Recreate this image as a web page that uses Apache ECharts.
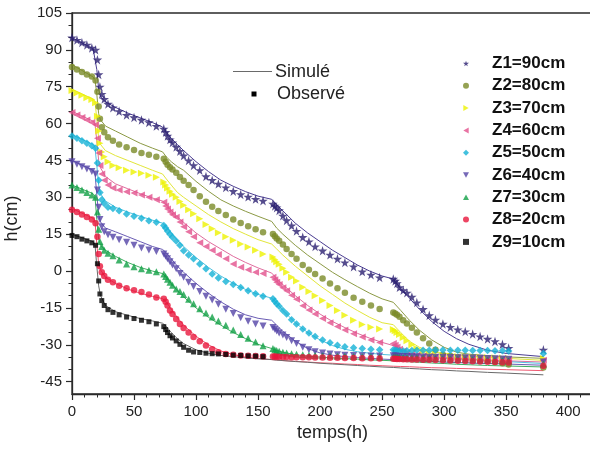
<!DOCTYPE html>
<html><head><meta charset="utf-8">
<script src="https://cdn.jsdelivr.net/npm/echarts@6/dist/echarts.min.js"></script>
<style>html,body{margin:0;padding:0;background:#fff}#c{width:590px;height:458px}</style>
</head><body><div id="c"></div>
<script>
// ---------- data ----------
const seriesNames = ['Z1=90cm','Z2=80cm','Z3=70cm','Z4=60cm','Z5=50cm','Z6=40cm','Z7=30cm','Z8=20cm','Z9=10cm'];
const yTickValues = [-45,-30,-15,0,15,30,45,60,75,90,105];
const xTickValues = [0,50,100,150,200,250,300,350,400];

const obsTime = [0,4,8,12,16,
  19,20.5,21.5,22.5,24,26,29,
  33,38,44,50,56,62,68,
  74,75.5,77,79,81,84,87,90,94,98,103,108,113,118,124,130,136,142,148,154,
  162,163.5,165,167,170,173,177,181,186,191,196,202,208,214,220,227,234,241,248,
  259,260.5,262,264,267,270,274,278,283,288,293,299,305,311,317,323,329,335,341,347,352,
  380];

const z1Obs = [95,94,93,92,90.8, 90,86,80,75,72,70,68, 66.5,65,63.5,62.5,61.5,60.5,59,
  57.9,56.5,55,53.5,52.3,50.5,48.8,47,45,43,41,38.5,37,35.5,34,32.5,31.2,30.2,29.3,28.6,
  27.4,26.5,25.8,24.7,22.5,20.6,18.5,16.3,13.8,12,10,8.3,6.6,5,3.5,1.8,-0.2,-1.5,-2.6,
  -3.2,-4,-5,-6.6,-7.8,-8.8,-10.5,-12.8,-15.5,-18,-19.8,-21.5,-22.8,-23.8,-24.6,-25.6,-26.6,-27.6,-28.6,-29.8,-31.3,
  -32];
const z2Obs = [83,82,81,80,79.2, 77.5,73,67,62,58.5,56.5,54.5, 53,51.5,50.4,49.3,48,47.3,46.5,
  45.7,44.5,43.3,42.2,41.3,40,38.3,36.8,35,33,30.5,28.2,26.2,24.4,22.8,21,19.6,18.2,17,15.8,
  15.1,14.2,13.3,12.3,10.8,9,7,5,2.5,0.5,-1.2,-3,-5,-7,-8.8,-10.8,-12.5,-14,-15.4,
  -16.8,-17.3,-17.8,-18.6,-20,-21.3,-23,-25,-27.3,-29.5,-32,-34,-34.5,-35,-35.3,-35.6,-36,-36.5,-37,-37.5,-38,
  -39.2];
const z3Obs = [73.5,72.5,71.5,70.5,69.8, 68.5,63,57,52,48.5,46.5,44.5, 43,42,41,40.3,39.8,39,38.2,
  36.2,35,33.8,32.5,31.3,30,28.3,26.8,25,23.3,21.3,19,17.2,15.6,14,12.5,11,9.8,8.5,7,
  5.7,4.7,3.8,2.8,1.2,-0.5,-2.5,-4,-6.6,-8.3,-10,-12,-14,-16,-18,-20,-21.7,-22.8,-23.6,
  -23.8,-24.3,-25,-25.8,-27,-28.3,-30,-31.5,-32.8,-33.5,-34,-34.3,-34.5,-34.7,-34.8,-35,-35,-35.2,-35.3,-35.4,-35.5,
  -35.6];
const z4Obs = [64.5,63.5,62.5,61.5,60.5, 59.5,54,48,43,39.5,37,35, 33.8,33,32.3,31.8,31,30,29,
  28,26.5,25.3,24,22.9,21.9,20,18,16,14,11.5,10,8.5,6.8,5,2.9,1.6,0.5,-0.5,-1,
  -2.5,-3.5,-4.5,-5.5,-6.8,-8,-9.8,-11.5,-14.1,-15.8,-17.5,-19.3,-21,-22.5,-24,-25.5,-26.8,-28,-29,
  -29.5,-30.2,-31,-31.8,-32.5,-33.2,-33.8,-34.2,-34.5,-34.7,-34.9,-35,-35.2,-35.3,-35.4,-35.5,-35.6,-35.7,-35.8,-35.9,-36,
  -36.3];
const z5Obs = [55,54,53,52,51, 50,44,37,32,29,27.5,26, 25.5,24.5,23.2,22.3,21.5,20.5,19.9,
  18.5,17.5,16.3,15,13.8,12.2,10.5,8.3,6.5,5,2.9,1,-1.2,-2.8,-4.2,-5.5,-6.7,-8,-9.2,-10.2,
  -11.3,-12.3,-13.3,-14.3,-16,-17.5,-19.8,-21.5,-23.6,-25.2,-26.6,-28,-29.2,-30.2,-30.8,-31.2,-31.5,-31.8,-32,
  -32,-32.2,-32.3,-32.4,-32.5,-32.4,-32.3,-32.2,-32.2,-32.2,-32.1,-32.1,-32.2,-32.2,-32.2,-32.3,-32.3,-32.3,-32.4,-32.4,-32.5,
  -33.5];
const z6Obs = [44.5,43.5,42.5,41.5,40.5, 39.5,33,26,21,18,16,14.8, 13.8,12.8,11.7,10.5,9.4,8.6,8,
  7,6,5,3.8,2.5,1,-1,-2.5,-4.5,-6.3,-8.3,-10.2,-11.8,-13.5,-15.5,-17.3,-19,-20.4,-21.5,-22.3,
  -22.9,-23.7,-24.4,-25.2,-26,-27,-28.3,-29.5,-31,-32,-32.8,-33.3,-33.7,-34,-34.2,-34.3,-34.4,-34.5,-34.5,
  -34.4,-34.5,-34.6,-34.6,-34.7,-34.7,-34.8,-34.8,-34.9,-35,-35,-35.1,-35.2,-35.3,-35.3,-35.4,-35.5,-35.6,-35.7,-35.8,-35.9,
  -37];
const z7Obs = [35,34,33,32,31, 30,24,17,12,10,8.5,7.3, 6.2,4.5,2.9,1.8,1,0.3,-0.3,
  -1.2,-2.2,-3.3,-4.5,-5.8,-7.3,-8.3,-9.5,-11.5,-13.3,-15.3,-17,-18.7,-20.3,-22,-24,-25.8,-27.3,-28.8,-30.4,
  -31.5,-32,-32.3,-32.6,-33,-33.3,-33.6,-33.8,-34,-34.2,-34.3,-34.4,-34.5,-34.6,-34.6,-34.7,-34.8,-34.8,-34.9,
  -35,-35,-35.1,-35.1,-35.2,-35.2,-35.3,-35.3,-35.4,-35.5,-35.6,-35.7,-35.8,-35.9,-36,-36.1,-36.2,-36.3,-36.4,-36.5,-36.6,
  -37.8];
const z8Obs = [25,24,23,22,21, 19.5,14,7,2,-0.5,-2,-3.5, -4.5,-6,-7,-7.8,-8.5,-9.5,-10.7,
  -11.3,-12.5,-14,-16,-17.5,-19.5,-21.5,-23.2,-25,-26.8,-28.5,-30.3,-31.8,-33,-33.7,-34,-34.3,-34.4,-34.5,-34.6,
  -34.7,-34.7,-34.8,-34.8,-34.9,-34.9,-35,-35,-35.1,-35.1,-35.2,-35.2,-35.3,-35.3,-35.4,-35.4,-35.5,-35.5,-35.6,
  -35.7,-35.7,-35.8,-35.8,-35.9,-35.9,-36,-36,-36.1,-36.1,-36.2,-36.3,-36.4,-36.5,-36.6,-36.7,-36.8,-36.9,-37,-37.1,-37.2,
  -38.5];
const z9Obs = [14.5,14,13,12.3,11.5, 10.5,3,-4,-9.3,-12,-14,-15.7, -16.8,-17.8,-18.7,-19.3,-20,-20.6,-21.5,
  -22.6,-23.8,-25,-26.3,-27.2,-28.4,-29.8,-31,-32.2,-32.9,-33.1,-33.4,-33.6,-33.7,-33.9,-34.2,-34.3,-34.5,-34.6,-34.8];

const simTime = [0,17,18.5,20,21.5,23,27,35,45,55, 65,73,76,80,85,90,100,110,120,130,
  140,150,161,165,170,180,190,200,210,220, 230,240,250,259,265,272,280,290,300,310, 320,335,350,380];

const z1Sim = [95,90.5,90,82,74,71,68.8,66.6,64.3,62.3, 60.4,58.6,56.5,54,51.5,49,44.5,40.5,37,34.5,
  32.3,30.5,29.2,27,24.5,19.5,15.5,12,8.5,5.5, 2.5,0,-2,-3.2,-7,-11,-15.5,-20.5,-24.5,-27.5, -29.8,-32.2,-33.5,-34.8];
const z2Sim = [84,79,78,72,64,61.5,59,57,54.5,52, 50,48.5,46.5,44.5,42.5,41,36.5,32.5,29,26.5,
  24.3,22.3,20.2,17.5,15,10.5,6.5,3,-0.5,-3.5, -6.3,-9,-11.3,-12.7,-16,-20,-24,-28,-31,-33, -33.8,-34.4,-34.9,-35.5];
const z3Sim = [74,70,69,62,54,51.5,49,47,45,43, 41,39.5,37.5,35,32,30,26.5,23,20,17.3,
  15,12.8,11,9,6.5,2,-2,-6,-9.5,-13, -16,-18.8,-21,-21.8,-25,-28.5,-31,-32.8,-33.5,-34, -34.5,-35,-35.5,-36.3];
const z4Sim = [65,61,60,53,45,42,38.5,35.5,33.5,31.5, 29.7,28.5,27,24.8,22,19.8,15.5,12,9,6,
  3.5,1.3,-0.8,-3,-5.5,-10,-14,-17.5,-20.5,-23, -25.3,-27.3,-29,-30.3,-32,-33.3,-34.2,-34.8,-35.2,-35.5, -35.8,-36.2,-36.5,-37];
const z5Sim = [55.5,51.5,50.5,43,35,31.5,28.5,26,24,22.3, 20.7,19.5,18,15.5,12.5,10,5.5,1.5,-2,-5,
  -7.5,-9.5,-11,-13,-16,-21,-25,-28,-30.3,-31.8, -32.8,-33.4,-33.9,-34.2,-34.4,-34.6,-34.9,-35.2,-35.5,-35.8, -36,-36.4,-36.8,-37.6];
const z6Sim = [45,41,40,31,23,20,17.5,16,14,12, 10,8.8,7.5,5,2,-0.5,-5,-9,-12.5,-15.5,
  -17.8,-19.2,-20,-22,-24.5,-28.5,-31.5,-33.3,-34.2,-34.8, -35.2,-35.5,-35.8,-36,-36.2,-36.4,-36.6,-36.8,-37,-37.2, -37.4,-37.6,-37.8,-38.3];
const z7Sim = [35,31.5,30.5,21,13,10.5,8.5,6,3.5,1.5, 0,-1,-2.5,-5,-8,-10.5,-15,-18.8,-22,-25,
  -27.5,-29.8,-31.5,-32.3,-33,-34,-34.6,-35,-35.3,-35.6, -35.8,-36.1,-36.3,-36.5,-36.7,-36.9,-37.1,-37.4,-37.6,-37.9, -38.1,-38.4,-38.6,-39];
const z8Sim = [25.5,21.5,20.5,11,3,0.5,-2.5,-5,-7.3,-9, -10.3,-11.2,-12.5,-15.5,-19,-22,-26.5,-30,-32.5,-34,
  -35,-35.5,-36,-36.2,-36.4,-36.7,-37,-37.3,-37.5,-37.8, -38,-38.3,-38.5,-38.7,-38.8,-38.9,-39.1,-39.3,-39.4,-39.6, -39.7,-39.9,-40.1,-40.5];
const z9Sim = [15,12,11,2,-6,-10,-14,-16.5,-18,-19.3, -20.3,-21.2,-22.5,-25,-27.5,-29.5,-32,-33.5,-34.3,-34.8,
  -35.3,-35.7,-36,-36.2,-36.4,-36.8,-37.1,-37.5,-37.8,-38.1, -38.4,-38.7,-39,-39.2,-39.4,-39.6,-39.8,-40.1,-40.3,-40.6, -40.8,-41.2,-41.5,-42.2];

// ---------- styling ----------
const obsSets = [z1Obs,z2Obs,z3Obs,z4Obs,z5Obs,z6Obs,z7Obs,z8Obs,z9Obs];
const simSets = [z1Sim,z2Sim,z3Sim,z4Sim,z5Sim,z6Sim,z7Sim,z8Sim,z9Sim];
const STAR = 'path://M50,0 L61,35 L98,35 L68,57 L79,91 L50,70 L21,91 L32,57 L2,35 L39,35 Z';
const TRI_UP = 'path://M5,0 L10,9 L0,9 Z';
const TRI_DOWN = 'path://M0,0 L10,0 L5,9 Z';
const TRI_RIGHT = 'path://M0,0 L9,5 L0,10 Z';
const TRI_LEFT = 'path://M9,0 L0,5 L9,10 Z';
const markerStyle = [
  {sym: STAR, size: 9.5, color: '#2b1f70'},
  {sym: 'circle', size: 6.5, color: '#7b8b28'},
  {sym: TRI_RIGHT, size: 7, color: '#eef200'},
  {sym: TRI_LEFT, size: 7, color: '#e2508c'},
  {sym: 'diamond', size: 7.5, color: '#14b2d6'},
  {sym: TRI_DOWN, size: 7, color: '#5444a6'},
  {sym: TRI_UP, size: 7, color: '#12a046'},
  {sym: 'circle', size: 6.5, color: '#e8163c'},
  {sym: 'rect', size: 5, color: '#000000'}
];
const lineColors = ['#4b3d92','#8c9a45','#e2e63a','#e06c9e','#50c2e0','#6a5cb4','#3fae60','#ee5a72','#6a6a6a'];

const FONT = '"Liberation Sans", Arial, Helvetica, sans-serif';

const series = [];
simSets.forEach((vals, i) => {
  series.push({
    name: seriesNames[i] + ' (simulé)',
    type: 'line',
    data: simTime.map((t, k) => [t, vals[k]]),
    showSymbol: false, symbol: 'none', smooth: false,
    lineStyle: {color: lineColors[i], width: 1},
    silent: true, z: 2
  });
});
obsSets.forEach((vals, i) => {
  const m = markerStyle[i];
  series.push({
    name: seriesNames[i],
    type: 'scatter',
    data: vals.map((v, k) => [obsTime[k], v]),
    symbol: m.sym, symbolSize: m.size,
    itemStyle: {color: m.color},
    silent: true, z: 3
  });
});

const minorY = [];
for (let v = -45; v <= 105; v += 5) if (v % 15 !== 0) minorY.push(v);
const minorX = [];
for (let v = 0; v <= 420; v += 10) if (v % 50 !== 0) minorX.push(v);

const chart = echarts.init(document.getElementById('c'), null, {renderer: 'canvas'});
chart.setOption({
  animation: false,
  backgroundColor: '#ffffff',
  grid: {left: 72, top: 13, right: -3, bottom: 64, outerBoundsMode: 'none', containLabel: false,
    show: true, borderColor: '#2a2a2a', borderWidth: 1.3, backgroundColor: 'transparent'},
  xAxis: [{
    type: 'value', min: 0, max: 420,
    name: 'temps(h)', nameLocation: 'middle', nameGap: 30,
    nameTextStyle: {fontFamily: FONT, fontSize: 18, color: '#222'},
    axisLine: {show: true, onZero: false, lineStyle: {color: '#2a2a2a', width: 1.3}},
    axisTick: {show: true, length: 6, customValues: xTickValues, lineStyle: {color: '#2a2a2a', width: 1.2}},
    axisLabel: {show: true, customValues: xTickValues, margin: 10, fontFamily: FONT, fontSize: 15, color: '#222'},
    splitLine: {show: false}
  }, {
    type: 'value', min: 0, max: 420, position: 'bottom', gridIndex: 0,
    axisLine: {show: false, onZero: false},
    axisTick: {show: true, length: 3.5, customValues: minorX, lineStyle: {color: '#2a2a2a', width: 1}},
    axisLabel: {show: false}, splitLine: {show: false}
  }],
  yAxis: [{
    type: 'value', min: -50, max: 105,
    name: 'h(cm)', nameLocation: 'middle', nameGap: 51,
    nameTextStyle: {fontFamily: FONT, fontSize: 18, color: '#222', padding: [0, 30, 0, 0]},
    axisLine: {show: true, onZero: false, lineStyle: {color: '#2a2a2a', width: 1.3}},
    axisTick: {show: true, length: 6, customValues: yTickValues, lineStyle: {color: '#2a2a2a', width: 1.2}},
    axisLabel: {show: true, customValues: yTickValues, margin: 10, fontFamily: FONT, fontSize: 15, color: '#222'},
    splitLine: {show: false}
  }, {
    type: 'value', min: -50, max: 105, position: 'left', gridIndex: 0,
    axisLine: {show: false, onZero: false},
    axisTick: {show: true, length: 3.5, customValues: minorY, lineStyle: {color: '#2a2a2a', width: 1}},
    axisLabel: {show: false}, splitLine: {show: false}
  }],
  legend: {
    data: seriesNames, orient: 'vertical', left: 458, top: 50,
    itemWidth: 6, itemHeight: 6, itemGap: 5.3,
    selectedMode: false,
    textStyle: {fontFamily: FONT, fontSize: 17, fontWeight: 'bold', color: '#111', lineHeight: 17, padding: [0, 0, 0, 18]}
  },
  graphic: [
    {type: 'line', shape: {x1: 233, y1: 71.5, x2: 272, y2: 71.5}, style: {stroke: '#6a6a6a', lineWidth: 1}},
    {type: 'text', x: 275, y: 72, style: {text: 'Simulé', font: '18px ' + FONT, fill: '#222', verticalAlign: 'middle'}},
    {type: 'rect', shape: {x: 251.5, y: 91.5, width: 5, height: 5}, style: {fill: '#000'}},
    {type: 'text', x: 277, y: 94.5, style: {text: 'Observé', font: '18px ' + FONT, fill: '#222', verticalAlign: 'middle'}}
  ],
  series: series
});
</script>
</body></html>
